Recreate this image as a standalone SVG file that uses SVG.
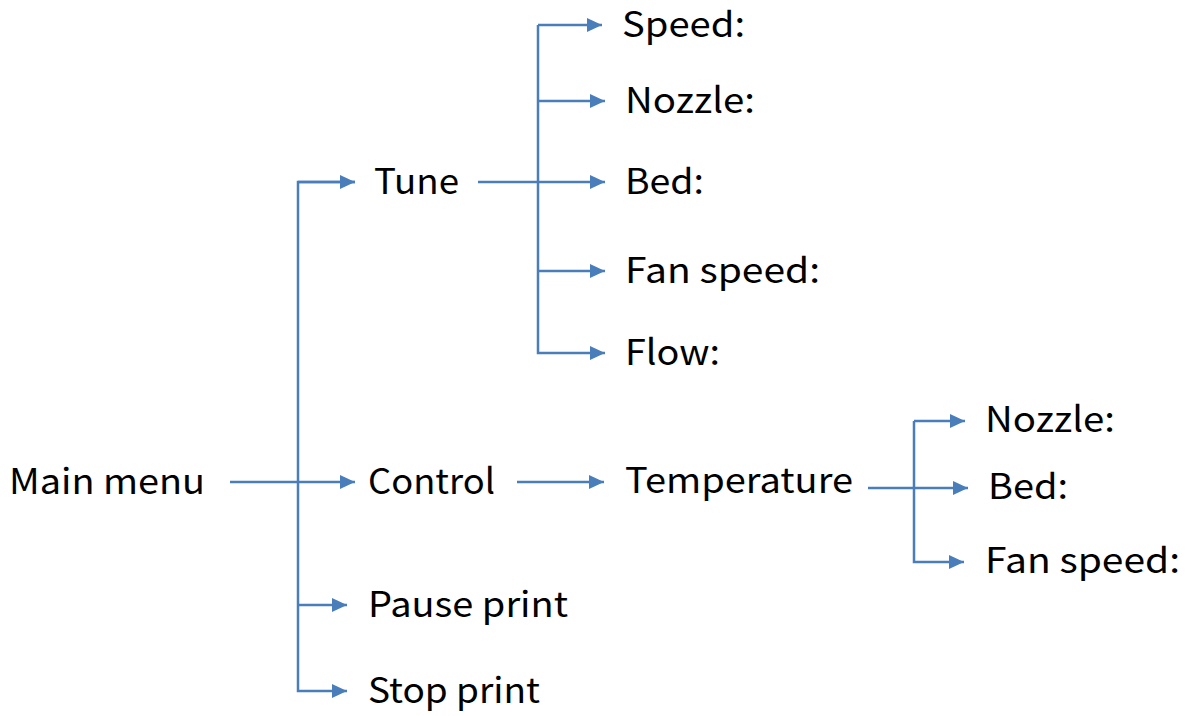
<svg xmlns="http://www.w3.org/2000/svg" width="1192" height="716" viewBox="0 0 1192 716">
<style>
text{font-family:"Noto Sans CJK SC","Noto Sans",sans-serif;font-size:35px;fill:#000}
.c{fill:none;stroke:#4A7EBB;stroke-width:2.5}
</style>
<defs>
<marker id="ah" markerUnits="userSpaceOnUse" viewBox="0 0 15 14" markerWidth="15" markerHeight="14" refX="15" refY="7" orient="auto">
<path d="M0,0 L15,7 L0,14 z" fill="#4A7EBB"/>
</marker>
</defs>
<rect width="1192" height="716" fill="#fff"/>
<g id="connectors">
<path class="c" d="M230,482 H355" marker-end="url(#ah)"/>
<path class="c" d="M355,182 H298 V691 H347" marker-end="url(#ah)"/>
<path class="c" d="M298,182 H355" marker-end="url(#ah)"/>
<path class="c" d="M298,605 H347" marker-end="url(#ah)"/>
<path class="c" d="M478,182 H605" marker-end="url(#ah)"/>
<path class="c" d="M538,25 V353 H605" marker-end="url(#ah)"/>
<path class="c" d="M538,25 H602" marker-end="url(#ah)"/>
<path class="c" d="M538,101 H605" marker-end="url(#ah)"/>
<path class="c" d="M538,271 H605" marker-end="url(#ah)"/>
<path class="c" d="M517,482 H604" marker-end="url(#ah)"/>
<path class="c" d="M868,488 H968" marker-end="url(#ah)"/>
<path class="c" d="M914,421 V562 H964" marker-end="url(#ah)"/>
<path class="c" d="M914,421 H965" marker-end="url(#ah)"/>
</g>
<g id="main-menu"><text x="9" y="494" textLength="196" lengthAdjust="spacingAndGlyphs">Main menu</text></g>
<g id="tune"><text x="374" y="194" textLength="85" lengthAdjust="spacingAndGlyphs">Tune</text></g>
<g id="control"><text x="368" y="494" textLength="127" lengthAdjust="spacingAndGlyphs">Control</text></g>
<g id="pause-print"><text x="368" y="617" textLength="200" lengthAdjust="spacingAndGlyphs">Pause print</text></g>
<g id="stop-print"><text x="368" y="703" textLength="172" lengthAdjust="spacingAndGlyphs">Stop print</text></g>
<g id="tune-speed"><text x="622" y="37" textLength="123" lengthAdjust="spacingAndGlyphs">Speed:</text></g>
<g id="tune-nozzle"><text x="625" y="113" textLength="130" lengthAdjust="spacingAndGlyphs">Nozzle:</text></g>
<g id="tune-bed"><text x="625" y="194" textLength="79" lengthAdjust="spacingAndGlyphs">Bed:</text></g>
<g id="tune-fan"><text x="625" y="283" textLength="195" lengthAdjust="spacingAndGlyphs">Fan speed:</text></g>
<g id="tune-flow"><text x="625" y="365" textLength="95" lengthAdjust="spacingAndGlyphs">Flow:</text></g>
<g id="temperature"><text x="625" y="493" textLength="228" lengthAdjust="spacingAndGlyphs">Temperature</text></g>
<g id="temp-nozzle"><text x="985" y="432" textLength="130" lengthAdjust="spacingAndGlyphs">Nozzle:</text></g>
<g id="temp-bed"><text x="988" y="499" textLength="80" lengthAdjust="spacingAndGlyphs">Bed:</text></g>
<g id="temp-fan"><text x="985" y="573" textLength="195" lengthAdjust="spacingAndGlyphs">Fan speed:</text></g>
</svg>
